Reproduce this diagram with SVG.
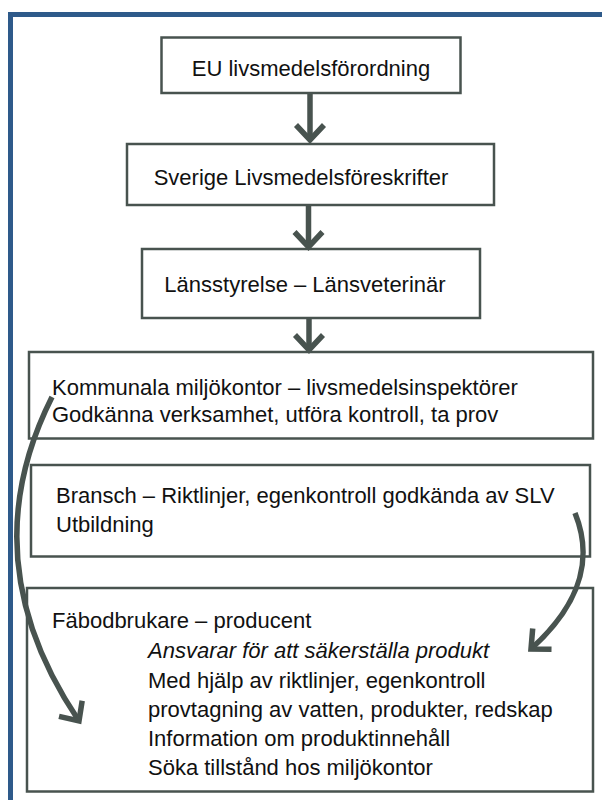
<svg xmlns="http://www.w3.org/2000/svg" width="602" height="800" viewBox="0 0 602 800">
<defs>
<style>
.box{fill:#ffffff;stroke:#48534f;stroke-width:2.5}
.t{font-family:"Liberation Sans",Arial,sans-serif;font-size:22px;fill:#111111}
.i{font-style:italic}
.c{stroke:#48534f;stroke-width:5.5;fill:none}
</style>
<marker id="ah" markerUnits="userSpaceOnUse" viewBox="-25 -20 30 40" refX="0" refY="0" markerWidth="30" markerHeight="40" orient="auto" overflow="visible">
<path d="M -15 -14 L 0 0 L -15 14" fill="none" stroke="#48534f" stroke-width="5.5"/>
</marker>
</defs>
<rect x="0" y="0" width="602" height="800" fill="#ffffff"/>
<rect x="10.5" y="14.5" width="700" height="900" fill="none" stroke="#2e5a8a" stroke-width="5"/>
<g id="n1"><rect class="box" x="161.5" y="37.5" width="299" height="55.5"/><text class="t" x="311" y="76" text-anchor="middle">EU livsmedelsförordning</text></g>
<g id="n2"><rect class="box" x="127" y="144" width="367" height="61"/><text class="t" x="301" y="185" text-anchor="middle">Sverige Livsmedelsföreskrifter</text></g>
<g id="n3"><rect class="box" x="142" y="249" width="338" height="69"/><text class="t" x="305" y="292" text-anchor="middle">Länsstyrelse – Länsveterinär</text></g>
<g id="n4"><rect class="box" x="29" y="352" width="564" height="86.5"/><text class="t" x="52" y="395">Kommunala miljökontor – livsmedelsinspektörer</text><text class="t" x="52" y="422">Godkänna verksamhet, utföra kontroll, ta prov</text></g>
<g id="n5"><rect class="box" x="31" y="465" width="559" height="91.5"/><text class="t" x="56" y="503">Bransch – Riktlinjer, egenkontroll godkända av SLV</text><text class="t" x="56" y="532">Utbildning</text></g>
<g id="n6"><rect class="box" x="27" y="588" width="566" height="203.5"/><text class="t" x="52" y="628">Fäbodbrukare – producent</text><text class="t i" x="148" y="658">Ansvarar för att säkerställa produkt</text><text class="t" x="148" y="688">Med hjälp av riktlinjer, egenkontroll</text><text class="t" x="148" y="717">provtagning av vatten, produkter, redskap</text><text class="t" x="148" y="746">Information om produktinnehåll</text><text class="t" x="148" y="775">Söka tillstånd hos miljökontor</text></g>
<g id="connectors">
<path class="c" d="M 310 93 L 310 140" marker-end="url(#ah)"/>
<path class="c" d="M 308.5 205 L 308.5 247" marker-end="url(#ah)"/>
<path class="c" d="M 309 318 L 309 350" marker-end="url(#ah)"/>
<path class="c" d="M 52 397 Q -30 560 79 721" marker-end="url(#ah)"/>
<path class="c" d="M 575 513 C 592 555, 585 600, 531 649" marker-end="url(#ah)"/>
</g>
</svg>
